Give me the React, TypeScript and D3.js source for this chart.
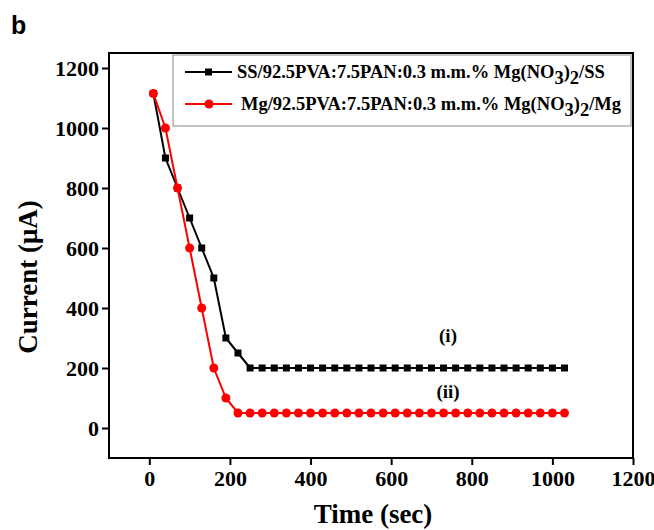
import React, { useEffect, useRef } from 'react'
import * as d3 from 'd3'

// time points (sec)
const timeSec = [
  10, 40, 70, 100, 130, 160, 190, 220, 250, 280, 310, 340, 370, 400, 430, 460, 490, 520,
  550, 580, 610, 640, 670, 700, 730, 760, 790, 820, 850, 880, 910, 940, 970, 1000, 1030,
]
// (i) SS/.../SS
const ssCurrent = [
  1115, 900, 800, 700, 600, 500, 300, 250, 200, 200, 200, 200, 200, 200, 200, 200, 200, 200,
  200, 200, 200, 200, 200, 200, 200, 200, 200, 200, 200, 200, 200, 200, 200, 200, 200,
]
// (ii) Mg/.../Mg
const mgCurrent = [
  1115, 1000, 800, 600, 400, 200, 100, 50, 50, 50, 50, 50, 50, 50, 50, 50, 50, 50,
  50, 50, 50, 50, 50, 50, 50, 50, 50, 50, 50, 50, 50, 50, 50, 50, 50,
]
const xTicks = [0, 200, 400, 600, 800, 1000, 1200]
const yTicks = [0, 200, 400, 600, 800, 1000, 1200]

const W = 654
const H = 530
const serif = 'Liberation Serif, Times New Roman, serif'

const App = () => {
  const svgRef = useRef<SVGSVGElement>(null)

  useEffect(() => {
    const svg = d3.select(svgRef.current)
    svg.selectAll('*').remove()

    const left = 109
    const right = 633
    const top = 53
    const bottom = 458

    const x = d3.scaleLinear().domain([-100, 1200]).range([left, right])
    const y = d3.scaleLinear().domain([-100, 1250]).range([bottom, top])

    // panel letter
    svg
      .append('text')
      .text('b')
      .attr('x', 11)
      .attr('y', 34)
      .attr('font-family', 'Liberation Sans, Arial, sans-serif')
      .attr('font-weight', 'bold')
      .attr('font-size', 25)

    // frame
    svg
      .append('rect')
      .attr('x', left)
      .attr('y', top)
      .attr('width', right - left)
      .attr('height', bottom - top)
      .attr('fill', 'none')
      .attr('stroke', '#000')
      .attr('stroke-width', 2)

    // x axis
    const xAxis = svg
      .append('g')
      .attr('transform', `translate(0,${bottom})`)
      .call(d3.axisBottom(x).tickValues(xTicks).tickSize(7).tickPadding(5).tickFormat(d3.format('d')))
    xAxis.select('.domain').remove()

    // y axis
    const yAxis = svg
      .append('g')
      .attr('transform', `translate(${left},0)`)
      .call(d3.axisLeft(y).tickValues(yTicks).tickSize(7).tickPadding(3).tickFormat(d3.format('d')))
    yAxis.select('.domain').remove()

    ;[xAxis, yAxis].forEach((g) => {
      g.attr('font-family', serif).attr('font-size', 22).attr('font-weight', 'bold')
      g.selectAll('.tick line').attr('stroke', '#000').attr('stroke-width', 2)
      g.selectAll('.tick text').attr('fill', '#000').style('font-family', serif)
    })

    // axis titles
    svg
      .append('text')
      .text('Time (sec)')
      .attr('x', 373)
      .attr('y', 523)
      .attr('text-anchor', 'middle')
      .attr('font-family', serif)
      .attr('font-weight', 'bold')
      .attr('font-size', 27)

    svg
      .append('text')
      .text('Current (μA)')
      .attr('transform', `translate(37,277) rotate(-90)`)
      .attr('text-anchor', 'middle')
      .attr('font-family', serif)
      .attr('font-weight', 'bold')
      .attr('font-size', 27)

    const line = d3
      .line<number>()
      .x((d, i) => x(timeSec[i]))
      .y((d) => y(d))

    // series (i) black squares
    svg
      .append('path')
      .datum(ssCurrent)
      .attr('d', line)
      .attr('fill', 'none')
      .attr('stroke', '#000')
      .attr('stroke-width', 2)
    svg
      .append('g')
      .selectAll('rect')
      .data(ssCurrent)
      .join('rect')
      .attr('x', (d, i) => x(timeSec[i]) - 3.5)
      .attr('y', (d) => y(d) - 3.5)
      .attr('width', 7)
      .attr('height', 7)
      .attr('fill', '#000')

    // series (ii) red circles
    svg
      .append('path')
      .datum(mgCurrent)
      .attr('d', line)
      .attr('fill', 'none')
      .attr('stroke', '#ff0000')
      .attr('stroke-width', 2)
    svg
      .append('g')
      .selectAll('circle')
      .data(mgCurrent)
      .join('circle')
      .attr('cx', (d, i) => x(timeSec[i]))
      .attr('cy', (d) => y(d))
      .attr('r', 4.5)
      .attr('fill', '#ff0000')

    // curve labels
    const note = (t: string, px: number, py: number) =>
      svg
        .append('text')
        .text(t)
        .attr('x', px)
        .attr('y', py)
        .attr('text-anchor', 'middle')
        .attr('font-family', serif)
        .attr('font-weight', 'bold')
        .attr('font-size', 19)
    note('(i)', 448, 342)
    note('(ii)', 448, 398)

    // legend
    const lg = svg.append('g')
    lg.append('rect')
      .attr('x', 173)
      .attr('y', 55)
      .attr('width', 458)
      .attr('height', 71)
      .attr('fill', '#fff')
      .attr('stroke', '#888')
      .attr('stroke-width', 1)

    const rows = [
      { color: '#000', shape: 'square', y: 72, tx: 237, pre: 'SS/92.5PVA:7.5PAN:0.3 m.m.% Mg(NO', post: '/SS' },
      { color: '#ff0000', shape: 'circle', y: 104, tx: 241, pre: 'Mg/92.5PVA:7.5PAN:0.3 m.m.% Mg(NO', post: '/Mg' },
    ]
    rows.forEach((r) => {
      lg.append('line')
        .attr('x1', 185)
        .attr('x2', 232)
        .attr('y1', r.y)
        .attr('y2', r.y)
        .attr('stroke', r.color)
        .attr('stroke-width', 2)
      if (r.shape === 'square') {
        lg.append('rect')
          .attr('x', 208.5 - 3.5)
          .attr('y', r.y - 3.5)
          .attr('width', 7)
          .attr('height', 7)
          .attr('fill', r.color)
      } else {
        lg.append('circle').attr('cx', 209).attr('cy', r.y).attr('r', 4.5).attr('fill', r.color)
      }
      const t = lg
        .append('text')
        .attr('x', r.tx)
        .attr('y', r.y + 6)
        .attr('font-family', serif)
        .attr('font-weight', 'bold')
        .attr('font-size', 18.5)
      t.append('tspan').text(r.pre)
      t.append('tspan').text('3').attr('dy', 6)
      t.append('tspan').text(')').attr('dy', -6)
      t.append('tspan').text('2').attr('dy', 6)
      t.append('tspan').text(r.post).attr('dy', -6)
    })
  }, [])

  return (
    <svg
      ref={svgRef}
      width={W}
      height={H}
      style={{ position: 'absolute', left: 0, top: 0, background: '#fff' }}
    ></svg>
  )
}

export default App
